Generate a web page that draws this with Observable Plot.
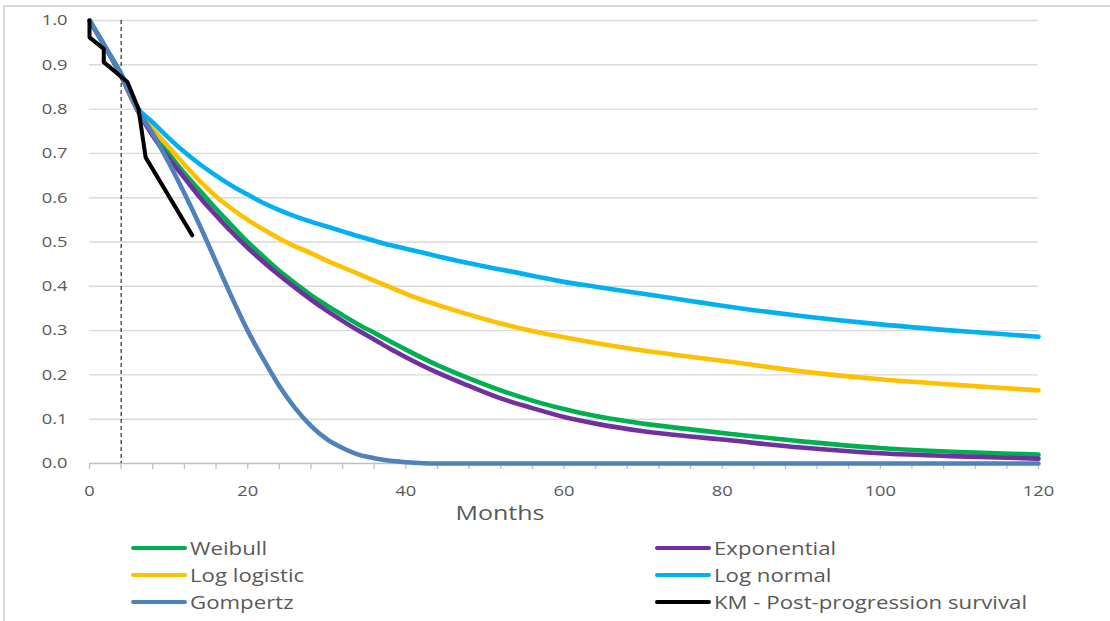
<!DOCTYPE html>
<html>
<head>
<meta charset="utf-8">
<script src="https://cdn.jsdelivr.net/npm/d3@7"></script>
<script src="https://cdn.jsdelivr.net/npm/@observablehq/plot@0.6"></script>
<style>
  html, body { margin: 0; padding: 0; background: #fff; }
  body { width: 1110px; height: 621px; position: relative; overflow: hidden; font-family: "Open Sans", sans-serif; }
  #frame { position: absolute; left: 3px; top: 5px; right: 0; bottom: 0; border-top: 2px solid #d9d9d9; border-left: 2px solid #d9d9d9; }
  #chart { position: absolute; left: 0; top: 0; }
  #xtitle { position: absolute; left: 500px; top: 512px; transform: translate(-50%, -50%) scaleX(1.25); font-size: 20px; color: #595959; }
  .leg { position: absolute; display: flex; align-items: center; font-size: 17.5px; color: #595959; transform: translateY(-50%); white-space: nowrap; }
  .leg .sw { width: 56px; height: 4px; border-radius: 2px; margin-right: 3px; flex: none; }
  .leg .tx { display: inline-block; transform: scaleX(1.27); transform-origin: left center; }
</style>
</head>
<body>
<div id="frame"></div>
<div id="chart"></div>
<div id="xtitle">Months</div>
<div id="legend"></div>
<script>
// ---- data ----
const months = [0,2,4,6,8,10,12,14,16,18,20,22,24,26,28,30,32,34,36,38,40,44,48,52,56,60,64,70,76,80,90,100,110,120];
const weibull     = [1.0,0.94,0.875,0.80,0.745,0.70,0.655,0.615,0.575,0.537,0.50,0.467,0.435,0.407,0.38,0.357,0.335,0.314,0.295,0.276,0.257,0.222,0.192,0.165,0.142,0.123,0.107,0.09,0.077,0.069,0.05,0.035,0.026,0.02];
const exponential = [1.0,0.94,0.875,0.80,0.74,0.69,0.645,0.60,0.56,0.522,0.487,0.455,0.425,0.397,0.37,0.345,0.322,0.30,0.28,0.259,0.24,0.205,0.175,0.147,0.125,0.105,0.09,0.073,0.061,0.054,0.036,0.023,0.016,0.011];
const logLogistic = [1.0,0.94,0.88,0.80,0.755,0.715,0.675,0.637,0.603,0.575,0.55,0.528,0.508,0.49,0.475,0.458,0.443,0.428,0.413,0.398,0.383,0.358,0.336,0.316,0.299,0.285,0.272,0.255,0.241,0.232,0.208,0.19,0.177,0.165];
const logNormal   = [1.0,0.94,0.88,0.805,0.77,0.735,0.703,0.675,0.65,0.627,0.607,0.588,0.572,0.558,0.546,0.535,0.524,0.513,0.503,0.493,0.485,0.468,0.452,0.438,0.424,0.41,0.399,0.383,0.367,0.356,0.333,0.314,0.299,0.286];
const gompertz    = [1.0,0.94,0.878,0.80,0.745,0.68,0.61,0.535,0.455,0.375,0.30,0.235,0.175,0.125,0.085,0.055,0.035,0.02,0.012,0.006,0.003,0,0,0,0,0,0,0,0,0,0,0,0,0];
const kmMonths = [0,0,1.8,1.8,4.8,6.2,7.1,13.0];
const kmValues = [1.0,0.962,0.936,0.906,0.861,0.80,0.691,0.515];
const cutoffMonth = [4];

const seriesNames  = ["Weibull","Exponential","Log logistic","Log normal","Gompertz","KM - Post-progression survival"];
const seriesColors = ["#00B050","#7030A0","#FFC000","#00B0F0","#4F81BD","#000000"];

const xLabelTicks = [0,20,40,60,80,100,120];
const xMinorTicks = d3.range(0, 121, 4);
const yTicks = [0,0.1,0.2,0.3,0.4,0.5,0.6,0.7,0.8,0.9,1.0];

// ---- build table ----
const modelArrays = [weibull, exponential, logLogistic, logNormal, gompertz];
const modelRows = [];
modelArrays.forEach((arr, i) => {
  arr.forEach((v, j) => modelRows.push({series: seriesNames[i], month: months[j], value: v}));
});
const kmRows = kmValues.map((v, j) => ({series: seriesNames[5], month: kmMonths[j], value: v}));

const fontFamily = '"Open Sans", sans-serif';

const chart = Plot.plot({
  width: 1110,
  height: 520,
  marginLeft: 89,
  marginRight: 72,
  marginTop: 20,
  marginBottom: 57,
  style: {fontFamily, background: "transparent", overflow: "visible"},
  x: {domain: [0, 120], label: null},
  y: {domain: [0, 1], label: null},
  color: {domain: seriesNames, range: seriesColors},
  marks: [
    Plot.gridY(yTicks.filter(d => d > 0), {stroke: "#d9d9d9", strokeOpacity: 1, strokeWidth: 1.4}),
    Plot.ruleY([0], {stroke: "#bfbfbf", strokeWidth: 1.4}),
    Plot.axisX(xMinorTicks, {tickSize: 6, tickFormat: () => "", stroke: "#bfbfbf", strokeWidth: 1.3, strokeOpacity: 1, label: null}),
    Plot.axisX(xLabelTicks, {tickSize: 0, tickPadding: 22, fontSize: 15, fill: "#595959", label: null}),
    Plot.axisY(yTicks, {tickSize: 0, tickPadding: 22, fontSize: 15, fill: "#595959", tickFormat: d3.format(".1f"), label: null}),
    Plot.ruleX(cutoffMonth, {stroke: "#000", strokeWidth: 1, strokeDasharray: "4,3"}),
    Plot.line(modelRows, {x: "month", y: "value", z: "series", stroke: "series", strokeWidth: 4.6, curve: "monotone-x", strokeLinejoin: "round", strokeLinecap: "round"}),
    Plot.line(kmRows, {x: "month", y: "value", stroke: "series", strokeWidth: 4, strokeLinejoin: "round", strokeLinecap: "round"})
  ]
});
document.getElementById("chart").appendChild(chart);

// widen axis tick labels to match the stretched original
d3.select(chart).selectAll("g[aria-label='x-axis tick label'] text, g[aria-label='y-axis tick label'] text").each(function() {
  const t = this.getAttribute("transform") || "";
  this.setAttribute("transform", t + " scale(1.22,1)");
});

// ---- legend ----
const legend = document.getElementById("legend");
const legPos = [
  [131, 548], [655, 548],
  [131, 575], [655, 575],
  [131, 602], [655, 602]
];
seriesNames.forEach((name, k) => {
  const el = document.createElement("div");
  el.className = "leg";
  el.style.left = legPos[k][0] + "px";
  el.style.top = legPos[k][1] + "px";
  const sw = document.createElement("span");
  sw.className = "sw";
  sw.style.background = seriesColors[k];
  const tx = document.createElement("span");
  tx.className = "tx";
  tx.textContent = name;
  el.appendChild(sw); el.appendChild(tx);
  legend.appendChild(el);
});
</script>
</body>
</html>
